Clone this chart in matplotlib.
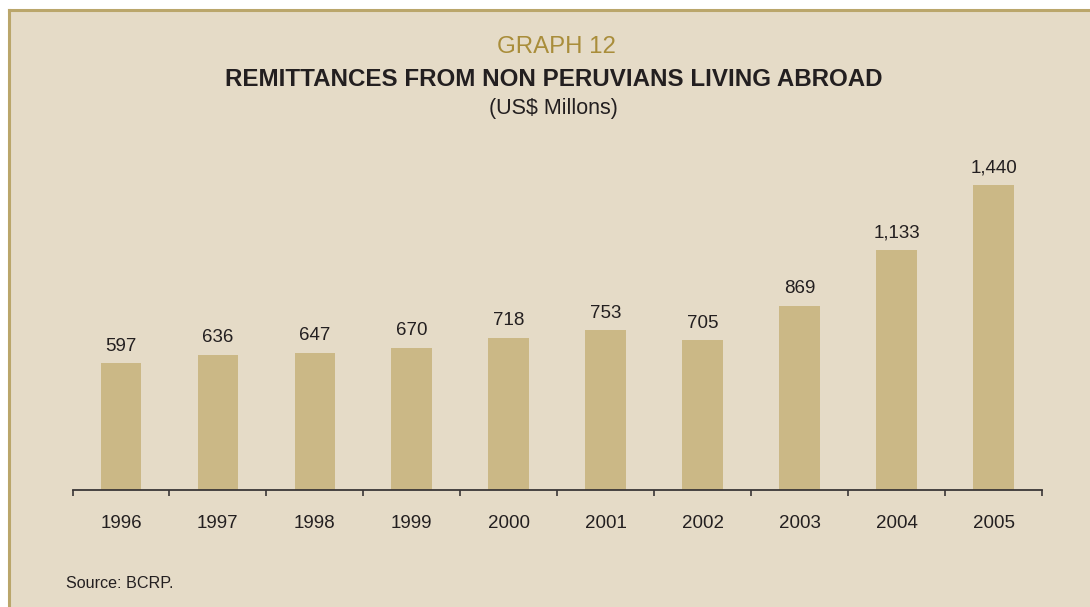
import matplotlib
matplotlib.use("Agg")
import matplotlib.pyplot as plt
from matplotlib.patches import Rectangle
from matplotlib.lines import Line2D

years = ["1996", "1997", "1998", "1999", "2000", "2001", "2002", "2003", "2004", "2005"]
remittances = [597, 636, 647, 670, 718, 753, 705, 869, 1133, 1440]
value_labels = ["597", "636", "647", "670", "718", "753", "705", "869", "1,133", "1,440"]

W, H, DPI = 1090, 607, 100
PANEL = "#e5dbc7"
BORDER = "#baa66b"
BAR = "#cbb886"
GOLD = "#a98d3a"
INK = "#231f20"

plt.rcParams["font.family"] = ["Liberation Sans", "DejaVu Sans"]

fig = plt.figure(figsize=(W / DPI, H / DPI), dpi=DPI, facecolor="white")

# Panel background with a gold rule on its top and left edges
px, py = 9 / W, 1 - 10 / H
fig.patches.append(Rectangle((px, 0), 1 - px, py, transform=fig.transFigure,
                             facecolor=PANEL, edgecolor="none", zorder=-2))
fig.lines.append(Line2D([px, 1], [py, py], transform=fig.transFigure,
                        color=BORDER, lw=2.2, zorder=-1))
fig.lines.append(Line2D([px, px], [0, py], transform=fig.transFigure,
                        color=BORDER, lw=2.2, zorder=-1))

# Plot area: baseline at y=489 px, spanning x 72..1042 px
left, right = 72.5 / W, 1042 / W
base, top = 1 - 489.5 / H, 1 - 150 / H
ax = fig.add_axes([left, base, right - left, top - base], zorder=2)
ax.set_facecolor("none")
ymax = 1440 * (489.5 - 150) / (489.5 - 185)
ax.set_xlim(-0.5, len(years) - 0.5)
ax.set_ylim(0, ymax)

x = range(len(years))
ax.bar(x, remittances, width=0.42, color=BAR, zorder=2)
for xi, v, lab in zip(x, remittances, value_labels):
    ax.annotate(lab, (xi, v), xytext=(0, 6.3), textcoords="offset points",
                ha="center", va="bottom", fontsize=13.5, color=INK)

for s in ("top", "right", "left"):
    ax.spines[s].set_visible(False)
ax.spines["bottom"].set_color("#3a3636")
ax.spines["bottom"].set_linewidth(1.3)
ax.set_yticks([])

ax.set_xticks([i - 0.5 for i in range(len(years) + 1)])
ax.set_xticklabels([])
ax.tick_params(axis="x", which="major", direction="out", length=4.5,
               width=1.2, color="#3a3636")
ax.set_xticks(list(x), minor=True)
ax.set_xticklabels(years, minor=True)
ax.tick_params(axis="x", which="minor", length=0, pad=18.5, labelsize=13.5,
               labelcolor=INK)

# Titles
fig.text(556 / W, 1 - 47 / H, "GRAPH 12", ha="center", va="center",
         fontsize=17.3, color=GOLD)
fig.text(554 / W, 1 - 80 / H, "REMITTANCES FROM NON PERUVIANS LIVING ABROAD",
         ha="center", va="center", fontsize=17.4, fontweight="bold", color=INK)
fig.text(553 / W, 1 - 108 / H, "(US$ Millons)", ha="center", va="center",
         fontsize=15.5, color=INK)

fig.text(66 / W, 1 - 584 / H, "Source: BCRP.", ha="left", va="center",
         fontsize=11.6, color=INK)

fig.savefig("out.png", dpi=DPI, facecolor="white")
